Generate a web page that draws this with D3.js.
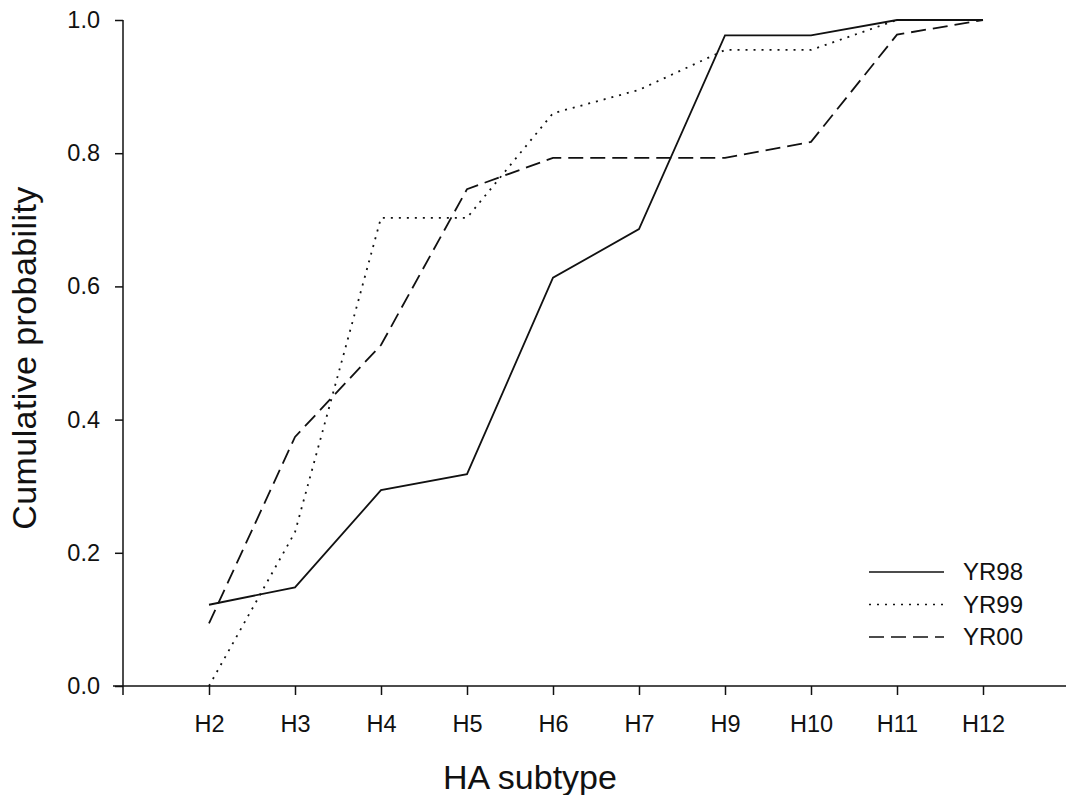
<!DOCTYPE html>
<html>
<head>
<meta charset="utf-8">
<script src="https://cdn.jsdelivr.net/npm/d3@7"></script>
<style>
  body { margin: 0; background: #fff; }
  svg text { font-family: "Liberation Sans", Arial, sans-serif; fill: #111; }
</style>
</head>
<body>
<div id="chart"></div>
<script>
// Data
const subtypes = ["H2", "H3", "H4", "H5", "H6", "H7", "H9", "H10", "H11", "H12"];
const yr98 = [0.122, 0.148, 0.294, 0.318, 0.613, 0.686, 0.977, 0.977, 1.0, 1.0];
const yr99 = [0.0, 0.231, 0.703, 0.703, 0.86, 0.895, 0.955, 0.955, 1.0, 1.0];
const yr00 = [0.094, 0.374, 0.512, 0.746, 0.793, 0.793, 0.793, 0.817, 0.978, 1.0];
const yTicks = [0, 0.2, 0.4, 0.6, 0.8, 1.0];

const series = [
    { name: "YR98", values: yr98, dash: null },
    { name: "YR99", values: yr99, dash: "2,6" },
    { name: "YR00", values: yr00, dash: "15,7" }
];

const width = 1066;
const height = 795;

const svg = d3.select("#chart")
    .append("svg")
    .attr("width", width)
    .attr("height", height);

// Scales
const x = d3.scalePoint()
    .domain(subtypes)
    .range([123, 1069])
    .padding(1);

const y = d3.scaleLinear()
    .domain([0, 1])
    .range([686, 20]);

// Y axis
const yAxis = svg.append("g")
    .attr("transform", "translate(123,0)")
    .call(d3.axisLeft(y).tickValues(yTicks).tickFormat(d3.format(".1f")).tickSize(8).tickPadding(15));
yAxis.select(".domain").attr("d", `M0,${y(1)}V${y(0)}`);

// X axis
const xAxis = svg.append("g")
    .attr("transform", "translate(0,686)")
    .call(d3.axisBottom(x).tickSize(9).tickPadding(20));
xAxis.select(".domain").attr("d", "M113,0H1066");
// tick at the origin
xAxis.append("line").attr("x1", 123).attr("x2", 123).attr("y1", 0).attr("y2", 9);

svg.selectAll(".domain, .tick line, g > line")
    .attr("stroke", "#111")
    .attr("stroke-width", 1.5);
svg.selectAll(".tick text")
    .style("font-size", "23.5px")
    .attr("fill", "#111");

// Lines
const line = d3.line()
    .x((d, i) => x(subtypes[i]))
    .y(d => y(d));

svg.selectAll(".series")
    .data(series)
    .enter()
    .append("path")
    .attr("class", "series")
    .attr("d", d => line(d.values))
    .attr("fill", "none")
    .attr("stroke", "#111")
    .attr("stroke-width", 1.8)
    .attr("stroke-dasharray", d => d.dash);

// Legend
const legend = svg.append("g").attr("transform", "translate(869,572)");
const legendRow = legend.selectAll("g")
    .data(series)
    .enter()
    .append("g")
    .attr("transform", (d, i) => `translate(0,${i * 32.5})`);

legendRow.append("line")
    .attr("x1", 0)
    .attr("x2", 75)
    .attr("stroke", "#111")
    .attr("stroke-width", 1.6)
    .attr("stroke-dasharray", d => d.dash);

legendRow.append("text")
    .attr("x", 94)
    .attr("y", 8)
    .style("font-size", "24px")
    .text(d => d.name);

// Axis titles
svg.append("text")
    .attr("x", 530)
    .attr("y", 789)
    .attr("text-anchor", "middle")
    .style("font-size", "34px")
    .text("HA subtype");

svg.append("text")
    .attr("transform", "translate(36,358) rotate(-90)")
    .attr("text-anchor", "middle")
    .style("font-size", "34px")
    .style("letter-spacing", "0.4px")
    .text("Cumulative probability");
</script>
</body>
</html>
